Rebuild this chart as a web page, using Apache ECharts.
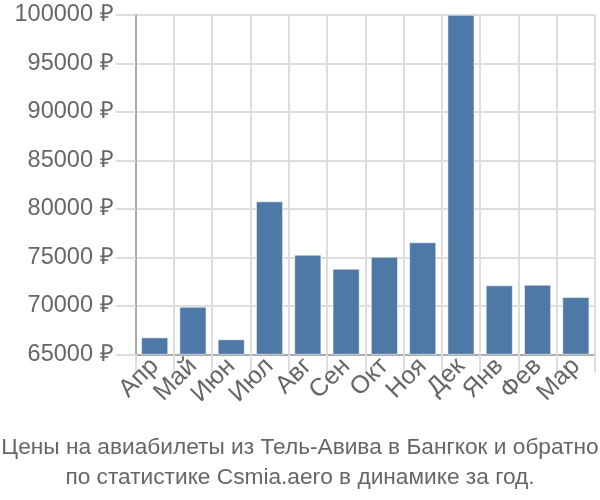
<!DOCTYPE html>
<html><head><meta charset="utf-8">
<script src="https://cdn.jsdelivr.net/npm/echarts@6/dist/echarts.min.js"></script>
<style>html,body{margin:0;padding:0;background:#fff}#c{width:600px;height:500px}</style>
</head><body><div id="c"></div>
<script>
const categories = ['Апр','Май','Июн','Июл','Авг','Сен','Окт','Ноя','Дек','Янв','Фев','Мар'];
const prices = [66750, 69900, 66550, 80770, 75270, 73830, 75060, 76550, 100000, 72110, 72180, 70900];
const titleLines = ['Цены на авиабилеты из Тель-Авива в Бангкок и обратно', 'по статистике Csmia.aero в динамике за год.'];
const yMin = 65000, yMax = 100000, yStep = 5000;

const chart = echarts.init(document.getElementById('c'), null, {renderer: 'canvas'});
chart.setOption({
  animation: false,
  textStyle: {fontFamily: 'Liberation Sans, Arial, sans-serif'},
  title: {
    text: titleLines.join('\n'),
    left: 'center', top: 428,
    textStyle: {fontSize: 22.7, fontWeight: 'normal', color: '#666', lineHeight: 30, fontFamily: 'Liberation Sans, Arial, sans-serif'}
  },
  grid: {left: 135.5, right: 5, top: 14.8, bottom: 145.7, containLabel: false},
  xAxis: {
    type: 'category', data: categories,
    axisLine: {show: true, lineStyle: {color: '#aaa', width: 2}},
    axisTick: {show: true, length: 18, alignWithLabel: false, lineStyle: {color: '#ddd', width: 2}},
    splitLine: {show: true, lineStyle: {color: '#ddd', width: 2}},
    axisLabel: {rotate: 45, fontSize: 25, color: '#666', margin: 8, interval: 0}
  },
  yAxis: {
    type: 'value', min: yMin, max: yMax, interval: yStep,
    axisLine: {show: true, lineStyle: {color: '#aaa', width: 2}},
    axisTick: {show: true, length: 20, lineStyle: {color: '#ddd', width: 2}},
    splitLine: {show: true, lineStyle: {color: '#ddd', width: 2}},
    axisLabel: {fontSize: 23.5, color: '#666', margin: 22, formatter: v => v + ' ₽'}
  },
  series: [{
    type: 'bar', data: prices, barCategoryGap: '29%',
    itemStyle: {color: '#4e79a7', borderColor: 'rgba(255,255,255,0.55)', borderWidth: 1}
  }]
});
</script></body></html>
